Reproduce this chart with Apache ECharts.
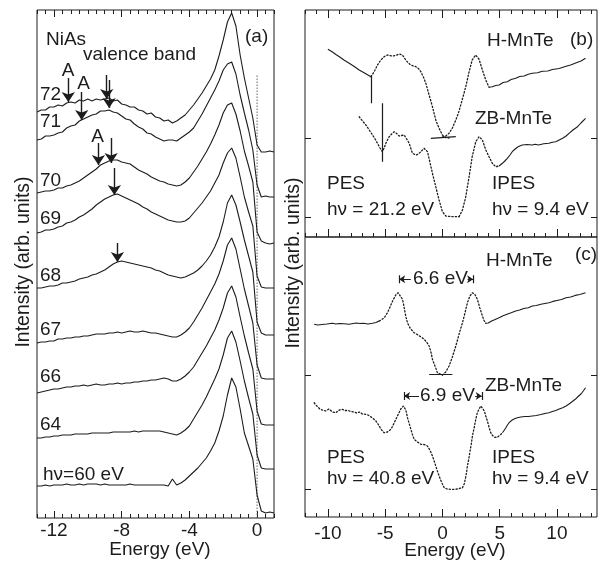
<!DOCTYPE html>
<html><head><meta charset="utf-8">
<script src="https://cdn.jsdelivr.net/npm/echarts@6/dist/echarts.min.js"></script>
<style>html,body{margin:0;padding:0;background:#fff}#c{width:602px;height:563px}</style>
</head><body><div id="c"></div>
<script>
// ---------- Panel (a): NiAs valence band, hv series ----------
const energyA = [-13,-12.75,-12.5,-12.25,-12,-11.75,-11.5,-11.25,-11,-10.75,-10.5,-10.25,-10,-9.75,-9.5,-9.25,-9,-8.75,-8.5,-8.25,-8,-7.75,-7.5,-7.25,-7,-6.75,-6.5,-6.25,-6,-5.75,-5.5,-5.25,-5,-4.75,-4.5,-4.25,-4,-3.75,-3.5,-3.25,-3,-2.75,-2.5,-2.25,-2,-1.75,-1.5,-1.25,-1,-0.75,-0.5,-0.25,0,0.25,0.5,0.75,1];
const photonLabels = ['72','71','70','69','68','67','66','64','hν=60 eV'];
const offsetsA = [366,321,275,230,183,139,93,49,5];
const spec72 = [40,42,42,45, 45,47,46,49, 50,49,52,51, 53,51,53,52, 53,54,51,52, 48,47,45,45, 42,41,38,39, 35,34,31,32, 29,31,34,37, 42,47,53,59, 66,73,82,96, 112,130,139,126, 97,74,54,34, 7,0,0,1, 0];
const spec71 = [57,58,61,61, 62,64,65,69, 71,72,76,78, 80,82,83,86, 86,87,85,84, 81,78,77,73, 70,68,64,63, 60,58,56,57, 57,56,59,62, 65,69,76,83, 91,99,107,116, 127,133,135,123, 102,84,67,47, 12,0,1,0, 0];
const spec70 = [50,51,52,52, 53,55,55,57, 58,60,62,65, 68,71,74,78, 80,82,83,83, 81,80,79,76, 73,71,69,66, 64,62,61,59, 58,57,58,61, 65,71,77,84, 91,99,108,118, 130,138,140,129, 112,92,77,61, 11,2,0,-1, 0];
const spec69 = [55,56,58,58, 59,61,62,65, 66,68,71,73, 76,79,83,86, 89,91,93,94, 92,90,88,86, 84,81,79,76, 74,72,70,68, 67,66,66,67, 70,75,80,85, 91,97,105,113, 125,135,140,130, 111,91,76,62, 12,1,0,0, 0];
const spec68 = [47,47,48,49, 49,50,52,52, 53,54,56,57, 58,60,61,63, 65,68,71,73, 74,73,72,71, 70,69,68,67, 65,64,62,60, 59,58,57,58, 60,62,65,69, 74,80,88,98, 113,132,140,130, 113,95,79,63, 13,2,0,0, 0];
const spec67 = [36,37,37,38, 38,40,40,41, 41,42,42,43, 43,44,45,45, 45,46,46,47, 46,47,48,47, 47,48,47,46, 46,45,44,43, 42,42,44,47, 51,57,64,71, 79,87,95,105, 118,134,141,130, 110,90,73,56, 14,1,0,0, 0];
const spec66 = [32,33,34,35, 36,36,37,38, 38,39,39,40, 39,40,41,40, 40,41,41,42, 41,42,42,43, 43,44,44,45, 45,46,47,46, 44,44,46,49, 53,58,65,72, 79,87,95,105, 117,132,139,128, 108,89,72,56, 14,1,0,0, 0];
const spec64 = [31,31,32,32, 33,33,34,34, 34,35,35,35, 35,36,36,36, 36,36,37,37, 37,37,37,38, 37,38,38,38, 38,38,37,36, 35,34,36,39, 43,50,57,64, 72,81,90,100, 114,131,138,127, 108,88,71,55, 14,1,0,0, 0];
const spec60 = [27,27,28,27, 28,28,28,29, 28,28,29,28, 29,29,29,28, 29,28,28,28, 28,28,29,28, 28,28,28,28, 28,28,28,27, 34,28,30,33, 37,41,45,50, 55,62,70,82, 97,118,135,126, 104,80,67,54, 18,2,0,1, 0];
// arrows: [energy, top intensity, tip intensity]
const arrowsA = [[-11.15,440,416],[-10.36,426,398],[-8.88,443,419],[-8.74,438,410],[-9.37,375,353],[-8.62,380,355],[-8.43,350,323],[-8.25,275,256]];
const fermiTopA = 443;
const ticksA = [-12,-8,-4,0];

// ---------- Panel (b): MnTe, PES hv=21.2 / IPES hv=9.4 ----------
const offsetsB = {H:79, ZB:0};
const bH_PES = [[-10.0,88.7],[-9.6,86],[-9.3,83.5],[-9.0,81.3],[-8.6,78],[-8.14,74.7],[-7.7,71.5],[-7.27,68],[-6.8,65],[-6.25,61.3],[-5.96,66.3],[-5.67,73],[-5.38,78],[-5.09,81.3],[-4.8,83],[-4.58,82.5],[-4.36,82],[-4.07,82.5],[-3.78,84],[-3.49,83],[-3.2,78],[-2.98,75],[-2.76,73],[-2.54,72],[-2.32,71.3],[-2.1,69.5],[-1.88,66.3],[-1.66,61],[-1.45,54.7],[-1.16,43],[-0.87,31.3],[-0.58,18],[-0.29,9.7],[0,3],[0.29,0.3],[0.58,0]];
const bH_IPES = [[0,1],[0.29,2],[0.58,4.7],[0.87,10],[1.17,18],[1.4,25],[1.6,33],[1.82,42],[2.04,51.3],[2.33,66.3],[2.6,78],[2.9,83],[3.2,78.7],[3.49,68],[3.79,58],[4.07,50.7],[4.36,51.3],[4.65,52.5],[4.95,53],[5.3,55.5],[5.67,56.3],[6.0,58.5],[6.4,59.7],[6.75,61.5],[7.13,62],[7.5,63.8],[7.85,64.7],[8.3,65.2],[8.73,66.8],[9.2,67],[9.6,68.5],[10.2,69.5],[10.8,71.8],[11.2,73],[11.64,75],[12.1,77],[12.5,79.7]];
const bZB_PES = [[-7.27,100.3],[-6.98,96],[-6.68,92],[-6.39,87],[-6.1,82],[-5.88,78],[-5.67,73.7],[-5.45,69],[-5.24,65.3],[-5.09,69],[-4.94,73.7],[-4.8,77],[-4.65,80.3],[-4.43,83],[-4.21,85.3],[-4.0,83.5],[-3.78,81],[-3.56,81.5],[-3.34,82],[-3.12,78],[-2.9,73.7],[-2.62,63.7],[-2.32,62],[-2.1,63],[-1.88,65.3],[-1.6,68.7],[-1.3,65.3],[-1.1,55.3],[-0.87,43.7],[-0.58,30.3],[-0.29,17],[0,5.3],[0.3,1],[0.87,0.3],[1.45,0.3]];
const bZB_IPES = [[1.45,0.3],[1.75,7],[2.04,20.3],[2.33,40.3],[2.6,60.3],[2.91,75.3],[3.2,80.3],[3.49,77],[3.79,67],[4.07,60.3],[4.36,53.7],[4.65,50.3],[4.95,51],[5.24,53.7],[5.45,56],[5.67,58.7],[5.9,62],[6.1,65.3],[6.3,67.5],[6.54,69.7],[6.75,71],[6.98,72],[7.4,72.5],[7.85,72],[8.1,72.8],[8.4,72],[8.85,73.2],[9.3,73.7],[9.6,74.8],[9.9,75.3],[10.2,77],[10.5,78.7],[10.8,81],[11.06,83.7],[11.4,87],[11.8,90.3],[12.1,94],[12.5,98.7]];
const markersB = [[-6.25,113.7,142],[-5.24,55.3,113.7]];
const zeroLineB = [[-1.01,78.7],[1.17,80.3]];

// ---------- Panel (c): MnTe, PES hv=40.8 / IPES hv=9.4 ----------
const offsetsC = {H:114, ZB:0};
const cH_PES = [[-11.2,50.7],[-10.9,50],[-10.5,50.5],[-10.1,51],[-9.6,51.7],[-9.3,51],[-9,51.5],[-8.6,51.2],[-8.14,50.7],[-7.8,51.5],[-7.5,52],[-7.2,51.5],[-6.9,51.8],[-6.5,51],[-6.1,51.7],[-5.8,52.5],[-5.52,54],[-5.3,55.5],[-5.1,57],[-4.95,59.5],[-4.8,62.3],[-4.65,66],[-4.5,70],[-4.35,74],[-4.2,77.3],[-4.05,80.5],[-3.87,82.3],[-3.7,80.5],[-3.49,75.7],[-3.38,70],[-3.27,63],[-3.16,57],[-3.05,52.3],[-2.9,48.5],[-2.76,46],[-2.6,44],[-2.47,42.3],[-2.2,40.5],[-2.0,39],[-1.8,37.5],[-1.6,35.7],[-1.38,33],[-1.16,29],[-1.0,23],[-0.87,15.7],[-0.72,11],[-0.58,7],[-0.44,2.3],[-0.3,1.2],[-0.14,0.7],[0,0]];
const cH_IPES = [[0,0],[0.29,3],[0.58,9],[0.87,18],[1.17,29],[1.46,41],[1.75,52.3],[1.97,62],[2.18,72.3],[2.4,79],[2.62,82.3],[2.84,80.5],[3.05,75.7],[3.27,67],[3.49,59],[3.64,54.5],[3.79,51.7],[4.0,52],[4.3,54],[4.6,55.5],[4.95,57.3],[5.3,59.2],[5.7,61],[6.0,62.2],[6.4,64],[6.75,65],[7.1,66.5],[7.5,67.3],[7.85,69],[8.2,69.5],[8.6,70.7],[8.95,71.5],[9.3,72.3],[9.65,73.6],[10.0,74.5],[10.4,75.5],[10.8,77.3],[11.2,78],[11.6,79.6],[12.0,80.5],[12.5,82.3]];
const cZB_PES = [[-11.2,86.3],[-11.05,84],[-10.9,83],[-10.7,80],[-10.5,79],[-10.35,80.5],[-10.2,78],[-10.05,79],[-9.9,80],[-9.75,78],[-9.6,77],[-9.45,78.5],[-9.3,76.3],[-9.15,78],[-9.0,79],[-8.85,81],[-8.73,79.7],[-8.55,78.5],[-8.4,77.5],[-8.25,78.5],[-8.14,79],[-8.0,77.5],[-7.85,78],[-7.7,77],[-7.5,76],[-7.35,77.5],[-7.2,77],[-7.0,75],[-6.85,76],[-6.68,74.7],[-6.5,74],[-6.3,72.5],[-6.1,71],[-5.95,70],[-5.81,68],[-5.65,65.5],[-5.52,63],[-5.38,60],[-5.24,58],[-5.09,56.3],[-4.95,56.5],[-4.8,57],[-4.65,58],[-4.5,59.7],[-4.36,62.5],[-4.22,66],[-4.07,69.5],[-3.93,73],[-3.78,76.5],[-3.64,80],[-3.5,82],[-3.4,83],[-3.3,81.5],[-3.2,79],[-3.12,75.5],[-3.05,71.3],[-2.9,65.5],[-2.76,60],[-2.62,54.5],[-2.47,49.7],[-2.32,48],[-2.18,47],[-2.03,46],[-1.88,44.7],[-1.74,45],[-1.6,44.5],[-1.45,44],[-1.31,43],[-1.2,41],[-1.1,39],[-0.98,36],[-0.87,33],[-0.72,28],[-0.58,23],[-0.44,18],[-0.29,13],[-0.15,9],[0,5],[0.15,1.3],[0.4,0],[0.7,-0.3],[1.0,-0.3],[1.3,0],[1.45,0],[1.75,1.3]];
const cZB_IPES = [[1.75,1.3],[1.9,5],[2.0,10],[2.1,16],[2.18,23],[2.3,30],[2.4,37],[2.52,45],[2.62,53],[2.75,60],[2.85,66],[2.95,71.5],[3.05,76.3],[3.2,80],[3.35,83],[3.47,81.5],[3.6,79],[3.7,76.5],[3.79,73],[3.9,69],[4.0,65],[4.1,60.5],[4.22,56.3],[4.34,54],[4.45,52.5],[4.56,51.7],[4.66,51.3],[4.8,51.8],[4.95,53],[5.1,54.5],[5.24,56.3],[5.38,58.5],[5.53,61],[5.67,63.8],[5.82,66.3],[5.96,68],[6.1,69],[6.3,70.3],[6.54,71.3],[6.85,72],[7.2,72.5],[7.5,72.5],[7.85,73],[8.2,73.5],[8.6,74.5],[8.95,75.5],[9.3,76.3],[9.6,77.5],[9.9,78.5],[10.2,80],[10.5,81.3],[10.8,83],[11.06,85],[11.35,87.5],[11.6,89.7],[11.85,92.5],[12.1,95],[12.3,98],[12.5,101.3]];
const zeroLineC = [[-1.16,114.7],[0.87,114.7]];
// gap measurements: [left peak E, right peak E, level]
const gapH = [-3.78, 2.68, 209.7];
const gapZB = [-3.35, 3.44, 93];
const ticksBC = [-10,-5,0,5,10];

// ---------- drawing ----------
const FONT = '"Liberation Sans", Arial, Helvetica, sans-serif';
const INK = '#1c1c1c';
const chart = echarts.init(document.getElementById('c'));

function range(a, b, s){ const r=[]; for(let v=a; v<=b+1e-9; v+=s) r.push(+v.toFixed(3)); return r; }
const minorA = range(-13, 1, 0.5);
const minorBC = range(-12, 13, 1);

function xa(grid, pos, min, max, ticks, len, labels, margin){
  return {type:'value', gridIndex:grid, position:pos, min, max,
    axisLine:{show:false, onZero:false}, splitLine:{show:false},
    axisTick:{show:true, inside:true, length:len, customValues:ticks, lineStyle:{color:INK, width:1}},
    axisLabel: labels ? {show:true, customValues:labels, fontSize:19, fontFamily:FONT, color:INK, margin:margin} : {show:false}};
}
function ya(grid, pos, min, max, ticks){
  return {type:'value', gridIndex:grid, position:pos, min, max,
    axisLine:{show:false, onZero:false}, splitLine:{show:false}, axisLabel:{show:false},
    axisTick: ticks ? {show:true, inside:true, length:6, customValues:ticks, lineStyle:{color:INK,width:1}} : {show:false}};
}

const xAxis = [
  xa(0,'bottom',-13,1,ticksA,7,ticksA,3),   //0
  xa(0,'bottom',-13,1,minorA,4,null),       //1
  xa(0,'top',-13,1,ticksA,7,null),          //2
  xa(0,'top',-13,1,minorA,4,null),          //3
  xa(1,'top',-12,13.5,ticksBC,8,null),      //4
  xa(1,'top',-12,13.5,minorBC,4,null),      //5
  xa(1,'bottom',-12,13.5,ticksBC,8,null),   //6
  xa(1,'bottom',-12,13.5,minorBC,4,null),   //7
  xa(2,'bottom',-12,13.5,ticksBC,8,ticksBC,7), //8
  xa(2,'bottom',-12,13.5,minorBC,4,null)    //9
];
const yAxis = [
  {type:'value', gridIndex:0, min:0, max:508, show:false, axisLine:{onZero:false}},
  ya(1,'left',-20,207,[offsetsB.ZB, offsetsB.H]),
  ya(1,'right',-20,207,[offsetsB.ZB, offsetsB.H]),
  ya(2,'left',-28,252,[offsetsC.ZB, offsetsC.H]),
  ya(2,'right',-28,252,[offsetsC.ZB, offsetsC.H])
];

const series = [];
const specsA = [spec72, spec71, spec70, spec69, spec68, spec67, spec66, spec64, spec60];
specsA.forEach((s, k) => {
  series.push({type:'line', name: photonLabels[k], xAxisIndex:0, yAxisIndex:0, symbol:'none', silent:true,
    data: energyA.map((e,i) => [e, offsetsA[k] + s[i]]),
    lineStyle:{color:INK, width:1.1}, z:3});
});
// Fermi level dotted line
series.push({type:'line', xAxisIndex:0, yAxisIndex:0, symbol:'none', silent:true,
  data:[[0,0],[0,fermiTopA]], lineStyle:{color:'#666', width:1, type:[1.5,1.5]}, z:2});
// arrows panel (a)
series.push({type:'lines', coordinateSystem:'cartesian2d', xAxisIndex:0, yAxisIndex:0, silent:true,
  symbol:['none','arrow'], symbolSize:[0,10],
  data: arrowsA.map(a => ({coords:[[a[0],a[1]],[a[0],a[2]]]})),
  lineStyle:{color:INK, width:1.4, opacity:1}, z:5});

const DOT = {color:INK, width:1.3, type:[1.3,2.1], cap:'round'};
const SOLID = {color:INK, width:1.1};
function addPart(pts, offset, xi, yi, style){
  if (pts.length < 2) return;
  series.push({type:'line', xAxisIndex:xi, yAxisIndex:yi, symbol:'none', silent:true,
    data: pts.map(p => [p[0], offset + p[1]]), lineStyle:style, z:3});
}
// PES: solid below lo, dotted above; IPES: dotted below hi, solid above
function addSpectrum(pes, ipes, offset, xi, yi, lo, hi){
  addPart(pes.filter(p => p[0] <= lo), offset, xi, yi, SOLID);
  addPart(pes.filter(p => p[0] >= lo), offset, xi, yi, DOT);
  addPart(ipes.filter(p => p[0] <= hi), offset, xi, yi, DOT);
  addPart(ipes.filter(p => p[0] >= hi), offset, xi, yi, SOLID);
}
addSpectrum(bH_PES, bH_IPES, offsetsB.H, 4, 1, -6.25, 4.07);
addSpectrum(bZB_PES, bZB_IPES, offsetsB.ZB, 4, 1, -99, 4.95);
addSpectrum(cH_PES, cH_IPES, offsetsC.H, 8, 3, -5.52, 3.79);
addSpectrum(cZB_PES, cZB_IPES, offsetsC.ZB, 8, 3, -99, 5.24);

series.push({type:'lines', coordinateSystem:'cartesian2d', xAxisIndex:4, yAxisIndex:1, silent:true, symbol:'none',
  data: markersB.map(m => ({coords:[[m[0],m[1]],[m[0],m[2]]]})).concat([{coords:zeroLineB}]),
  lineStyle:{color:INK, width:1.2, opacity:1}, z:4});
series.push({type:'lines', coordinateSystem:'cartesian2d', xAxisIndex:8, yAxisIndex:3, silent:true, symbol:'none',
  data: [{coords:zeroLineC}].concat([gapH, gapZB].flatMap(g => [
    {coords:[[g[0],g[2]-4],[g[0],g[2]+4]]}, {coords:[[g[1],g[2]-4],[g[1],g[2]+4]]}])),
  lineStyle:{color:INK, width:1.2, opacity:1}, z:4});
// gap arrows (short segments from label to bar)
const gapArrowInner = [[gapH, -2.76, 2.2],[gapZB, -2.04, 2.86]];
series.push({type:'lines', coordinateSystem:'cartesian2d', xAxisIndex:8, yAxisIndex:3, silent:true,
  symbol:['none','arrow'], symbolSize:[0,6],
  data: gapArrowInner.flatMap(([g, li, ri]) => [
    {coords:[[li,g[2]],[g[0],g[2]]]}, {coords:[[ri,g[2]],[g[1],g[2]]]}]),
  lineStyle:{color:INK, width:1.2, opacity:1}, z:4});

function txt(text, x, y, align, size, rot){
  return {type:'text', x, y, rotation: rot||0, silent:true, z:10,
    style:{text, font: (size||19)+'px '+FONT, fill:INK,
      textAlign: align||'left', textVerticalAlign:'middle', align: align||'left', verticalAlign:'middle'}};
}
const labelY = [95,122,181,219,276,330,377,425,475];
const graphic = [
  txt('NiAs', 46, 40), txt('valence band', 83, 55), txt('(a)', 245, 37),
  txt('A', 68, 71, 'center'), txt('A', 83.5, 84, 'center'), txt('A', 97.5, 137, 'center'),
  ...photonLabels.map((l,k) => txt(l, k===8 ? 43 : 40, labelY[k])),
  txt('H-MnTe', 487, 41), txt('(b)', 570, 40), txt('ZB-MnTe', 475, 119),
  txt('PES', 327, 184), txt('hν = 21.2 eV', 327, 210), txt('IPES', 492, 184), txt('hν = 9.4 eV', 492, 210),
  txt('(c)', 575, 255), txt('H-MnTe', 486, 261), txt('6.6 eV', 413, 279), txt('6.9 eV', 420, 396),
  txt('ZB-MnTe', 485, 386), txt('PES', 327, 458), txt('hν = 40.8 eV', 327, 478.5),
  txt('IPES', 492, 458), txt('hν = 9.4 eV', 492, 478.5),
  txt('Energy (eV)', 160, 550, 'center'), txt('Energy (eV)', 455, 551, 'center'),
  txt('Intensity (arb. units)', 23.5, 262, 'center', 19.5, Math.PI/2),
  txt('Intensity (arb. units)', 293.5, 263, 'center', 19.5, Math.PI/2)
];

chart.setOption({
  animation:false,
  backgroundColor:'#fff',
  grid:[
    {left:37, top:10, width:237, height:508, show:true, borderColor:INK, borderWidth:1, backgroundColor:'transparent'},
    {left:305, top:10, width:292, height:227, show:true, borderColor:INK, borderWidth:1, backgroundColor:'transparent'},
    {left:305, top:237, width:292, height:280, show:true, borderColor:INK, borderWidth:1, backgroundColor:'transparent'}
  ],
  xAxis, yAxis, series, graphic
});
</script></body></html>
